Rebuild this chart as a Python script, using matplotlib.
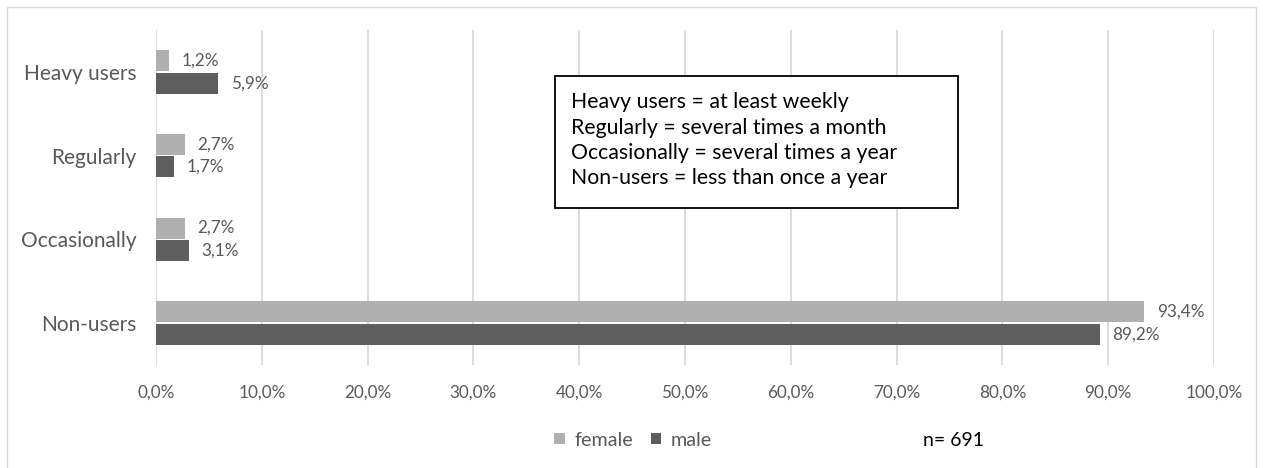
import matplotlib.pyplot as plt
from matplotlib.patches import Rectangle

categories = ['Non-users', 'Occasionally', 'Regularly', 'Heavy users']
female = [93.4, 2.7, 2.7, 1.2]
male = [89.2, 3.1, 1.7, 5.9]
ticks = [0, 10, 20, 30, 40, 50, 60, 70, 80, 90, 100]
notes = ['Heavy users = at least weekly',
         'Regularly = several times a month',
         'Occasionally = several times a year',
         'Non-users = less than once a year']

plt.rcParams['font.family'] = ['Lato', 'DejaVu Sans']
GREY_TXT = '#595959'
C_FEM = '#b0b0b0'
C_MALE = '#5e5e5e'


def fmt(v):
	return ('%.1f' % v).replace('.', ',') + '%'


def main():
	fig = plt.figure(figsize=(12.63, 4.68), dpi=100)
	fig.patches.append(Rectangle((7 / 1263, -0.01), 1249 / 1263, 1 - 7 / 468 + 0.01,
		transform=fig.transFigure, fill=False, edgecolor='#d9d9d9', lw=1))
	ax = fig.add_axes([156 / 1263, 1 - 365 / 468, (1214 - 156) / 1263, 335 / 468])

	y = list(range(len(categories)))
	h = 0.25
	yf = [i + 0.135 for i in y]
	ym = [i - 0.135 for i in y]
	ax.barh(yf, female, height=h, color=C_FEM, label='female', zorder=3)
	ax.barh(ym, male, height=h, color=C_MALE, label='male', zorder=3)
	for i in y:
		ax.text(female[i] + 1.2, yf[i], fmt(female[i]), va='center', ha='left',
			fontsize=12.3, color=GREY_TXT)
		ax.text(male[i] + 1.2, ym[i], fmt(male[i]), va='center', ha='left',
			fontsize=12.3, color=GREY_TXT)

	ax.set_xlim(0, 100)
	ax.set_ylim(-0.5, 3.5)
	ax.set_xticks(ticks)
	ax.set_xticklabels([fmt(t) for t in ticks], fontsize=12.3, color=GREY_TXT)
	ax.set_yticks(y)
	ax.set_yticklabels(categories, fontsize=15, color=GREY_TXT)
	ax.tick_params(length=0, pad=14)
	ax.tick_params(axis='y', pad=14)
	ax.grid(axis='x', color='#d9d9d9', lw=1.3, zorder=0)
	for s in ax.spines.values():
		s.set_visible(False)

	# definitions box
	x0, x1 = (555 - 156) / 1058, (958 - 156) / 1058
	y0, y1 = (365 - 208) / 335, (365 - 76) / 335
	ax.add_patch(Rectangle((x0, y0), x1 - x0, y1 - y0, transform=ax.transAxes,
		fc='white', ec='black', lw=1.3, zorder=5))
	line_y = [102, 128, 153, 178]
	for txt, yy in zip(notes, line_y):
		ax.text((571 - 156) / 1058, (365 - yy) / 335, txt, transform=ax.transAxes,
			fontsize=15.3, color='black', va='center', ha='left', zorder=6)

	fig.legend(loc='center', bbox_to_anchor=(633 / 1263, 1 - 440 / 468), ncol=2,
		frameon=False, fontsize=14.2, handlelength=0.55, handleheight=0.55,
		handletextpad=0.45, columnspacing=0.9, labelcolor=GREY_TXT)
	fig.text(923 / 1263, 1 - 441 / 468, 'n= 691', fontsize=14, va='center', ha='left')

	fig.savefig('out.png', dpi=100)


if __name__ == "__main__":
	main()
